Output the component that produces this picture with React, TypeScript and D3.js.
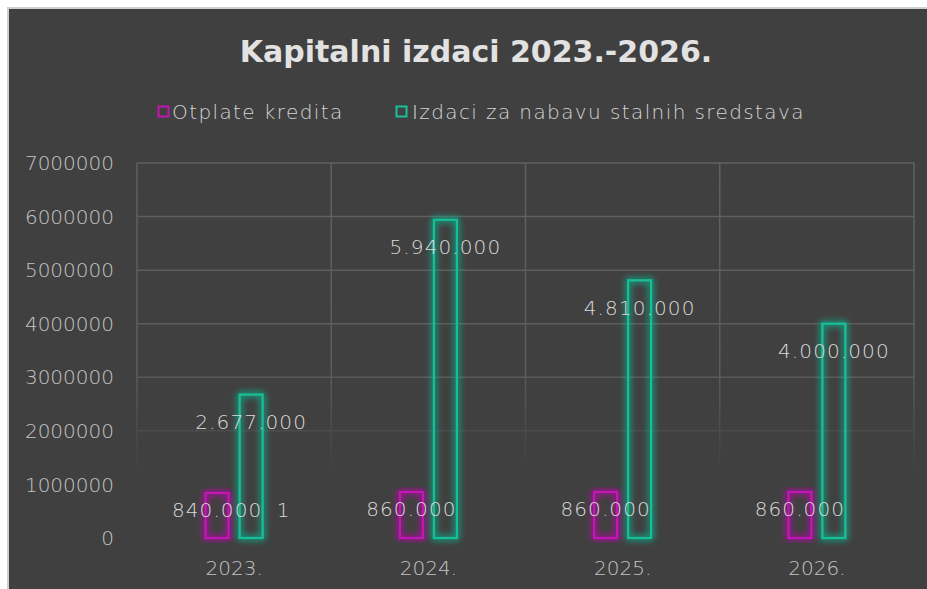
import * as React from 'react';
import { useEffect } from 'react';
import * as d3 from 'd3';

// podaci s grafikona
const years = ['2023.', '2024.', '2025.', '2026.'];
const otplateKredita = [840000, 860000, 860000, 860000];
const izdaciNabava = [2677000, 5940000, 4810000, 4000000];
const seriesNames = ['Otplate kredita', 'Izdaci za nabavu stalnih sredstava'];
const chartTitle = 'Kapitalni izdaci 2023.-2026.';
const yMax = 7000000;
const strayLabel = '1';

const W = 927;
const H = 589;
const FONT = "'DejaVu Sans', sans-serif";
const MAGENTA = '#c414b4';
const TEAL = '#19bf97';
const BG = '#404040';

const App: React.FC = () => {
    useEffect(() => {
        document.body.style.margin = '0';
    }, []);

    const left = 137, right = 914, top = 163, bottom = 538;

    const x0 = d3.scaleBand<string>().domain(years).range([left, right]).padding(0);
    const groupW = 59;
    const x1 = d3.scaleBand<number>().domain([0, 1]).range([0, groupW]).paddingInner(0.265).paddingOuter(0);
    const y = d3.scaleLinear().domain([0, yMax]).range([bottom, top]);
    const fmt = (v: number) => d3.format(',')(v).replace(/,/g, '.');

    const series = [otplateKredita, izdaciNabava];
    const colors = [MAGENTA, TEAL];
    const labelOffset = [17, 27];

    const gx = (yr: string) => (x0(yr) as number) + (x0.bandwidth() - groupW) / 2;

    return (
        <svg width={W} height={H} style={{ display: 'block' }}>
            <defs>
                <filter id="glow" x="-60%" y="-10%" width="220%" height="120%">
                    <feGaussianBlur in="SourceGraphic" stdDeviation="3.5" result="b" />
                    <feMerge>
                        <feMergeNode in="b" />
                        <feMergeNode in="b" />
                        <feMergeNode in="SourceGraphic" />
                    </feMerge>
                </filter>
                <linearGradient id="fade" gradientUnits="userSpaceOnUse" x1="0" y1={top} x2="0" y2={bottom}>
                    <stop offset="0" stopColor="#fff" stopOpacity="1" />
                    <stop offset="0.55" stopColor="#fff" stopOpacity="0.9" />
                    <stop offset="0.83" stopColor="#fff" stopOpacity="0" />
                </linearGradient>
                <mask id="gridMask" maskUnits="userSpaceOnUse" x="0" y="0" width={W} height={H}>
                    <rect x={0} y={0} width={W} height={H} fill="url(#fade)" />
                </mask>
            </defs>

            <rect x={0} y={0} width={W} height={H} fill="#fff" />
            <rect x={7} y={7} width={W - 7} height={H - 7} fill="#cfcfcf" />
            <rect x={9} y={9} width={W - 9} height={H - 9} fill={BG} />

            {/* naslov */}
            <text x={476} y={62} textAnchor="middle" fontFamily={FONT} fontWeight="bold"
                fontSize={30} fill="#e2e2e2">{chartTitle}</text>

            {/* legenda */}
            <g fontFamily={FONT} fontSize={20} fill="#d4d4d4" fontWeight={200} letterSpacing={1.4}>
                <rect x={158.5} y={106.5} width={10} height={10} fill="none" stroke={MAGENTA} strokeWidth={2} />
                <text x={172} y={119}>{seriesNames[0]}</text>
                <rect x={396.5} y={106.5} width={10} height={10} fill="none" stroke={TEAL} strokeWidth={2} />
                <text x={412} y={119}>{seriesNames[1]}</text>
            </g>

            {/* mreža */}
            <g mask="url(#gridMask)" stroke="#606060" strokeWidth={1.5}>
                {y.ticks(7).map(t => (
                    <line key={'h' + t} x1={left} x2={right} y1={y(t)} y2={y(t)} />
                ))}
                {[...years.map(yr => x0(yr) as number), right].map((xv, i) => (
                    <line key={'v' + i} x1={xv} x2={xv} y1={top} y2={bottom} />
                ))}
            </g>

            {/* os Y */}
            <g fontFamily={FONT} fontSize={20} fill="#c4c4c4" textAnchor="end" fontWeight={200}>
                {y.ticks(7).map(t => (
                    <text key={t} x={114} y={y(t)} dy="0.36em">{String(t)}</text>
                ))}
            </g>

            {/* stupci */}
            {series.map((vals, si) => (
                <g key={si} filter="url(#glow)">
                    {vals.map((v, i) => (
                        <rect key={i}
                            x={gx(years[i]) + (x1(si) as number) + 1}
                            y={y(v)}
                            width={x1.bandwidth() - 2}
                            height={y(0) - y(v)}
                            fill="none"
                            stroke={colors[si]}
                            strokeWidth={2.2} />
                    ))}
                </g>
            ))}

            {/* oznake podataka */}
            <g fontFamily={FONT} fontSize={20} fill="#dadada" textAnchor="middle" fontWeight={200} letterSpacing={1.1}>
                {series.map((vals, si) => vals.map((v, i) => (
                    <text key={si + '-' + i}
                        x={gx(years[i]) + (x1(si) as number) + x1.bandwidth() / 2}
                        y={y(v) + labelOffset[si]}
                        dy="0.36em">{fmt(v)}</text>
                )))}
                <text x={gx(years[0]) + groupW + 20} y={y(otplateKredita[0]) + labelOffset[0]} dy="0.36em">{strayLabel}</text>
            </g>

            {/* os X */}
            <g fontFamily={FONT} fontSize={20} fill="#c4c4c4" textAnchor="middle" fontWeight={200}>
                {years.map(yr => (
                    <text key={yr} x={(x0(yr) as number) + x0.bandwidth() / 2} y={568} dy="0.36em">{yr}</text>
                ))}
            </g>
        </svg>
    );
};

export default App;
